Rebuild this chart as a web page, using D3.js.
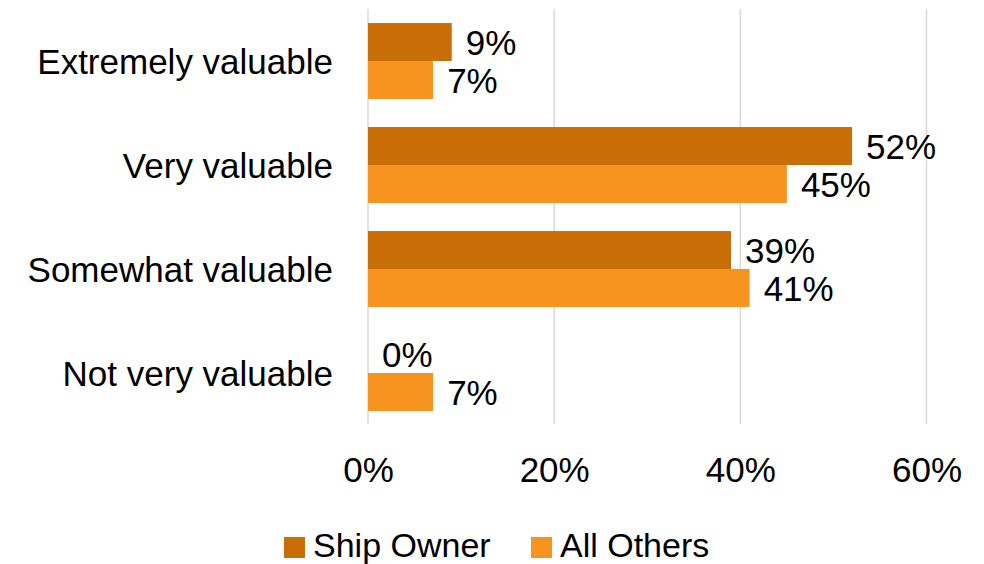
<!DOCTYPE html>
<html>
<head>
<meta charset="utf-8">
<script src="https://cdn.jsdelivr.net/npm/d3@7"></script>
<style>
  html, body { margin: 0; padding: 0; background: #fff; }
  svg { display: block; }
  text { font-family: "Liberation Sans", Arial, sans-serif; fill: #000; }
</style>
</head>
<body>
<svg id="chart" width="984" height="564"></svg>
<script>
// Survey responses: how valuable respondents found it
const categories = ["Extremely valuable", "Very valuable", "Somewhat valuable", "Not very valuable"];
const seriesNames = ["Ship Owner", "All Others"];
const shipOwner = [9, 52, 39, 0];
const allOthers = [7, 45, 41, 7];
const xTicks = [0, 20, 40, 60];
const colors = ["#C96E07", "#F7941F"];

const seriesValues = [shipOwner, allOthers];
const rows = categories.map((c, i) => ({
  category: c,
  values: seriesNames.map((s, j) => ({ series: s, value: seriesValues[j][i] }))
}));

const svg = d3.select("#chart");
const fontSize = 35;

const x = d3.scaleLinear().domain([0, 60]).range([368, 926.5]);
const y = d3.scaleBand().domain(categories).range([9, 425]).paddingInner(0.27).paddingOuter(0.135);
const ySub = d3.scaleBand().domain(seriesNames).range([0, y.bandwidth()]);
const color = d3.scaleOrdinal().domain(seriesNames).range(colors);

// vertical gridlines
svg.append("g")
  .selectAll("line")
  .data(xTicks)
  .join("line")
  .attr("x1", d => x(d)).attr("x2", d => x(d))
  .attr("y1", 9).attr("y2", 424)
  .attr("stroke", "#d9d9d9")
  .attr("stroke-width", 1.5);

// x axis tick labels
const xAxis = d3.axisBottom(x).tickValues(xTicks).tickFormat(d => d + "%").tickSize(0).tickPadding(0);
const gx = svg.append("g").attr("transform", "translate(0,482)").call(xAxis);
gx.select(".domain").remove();
gx.selectAll("text")
  .attr("y", 0).attr("dy", 0)
  .style("font-size", fontSize + "px")
  .style("font-family", '"Liberation Sans", Arial, sans-serif')
  .attr("fill", "#000");

// category labels
svg.append("g")
  .selectAll("text")
  .data(categories)
  .join("text")
  .attr("x", 333)
  .attr("y", d => y(d) + y.bandwidth() / 2)
  .attr("dy", "0.36em")
  .attr("text-anchor", "end")
  .style("font-size", fontSize + "px")
  .text(d => d);

// bars and value labels
const groups = svg.append("g")
  .selectAll("g")
  .data(rows)
  .join("g")
  .attr("transform", d => `translate(0,${y(d.category)})`);

groups.selectAll("rect")
  .data(d => d.values.filter(v => v.value > 0))
  .join("rect")
  .attr("x", x(0))
  .attr("y", d => ySub(d.series))
  .attr("width", d => x(d.value) - x(0))
  .attr("height", ySub.bandwidth())
  .attr("fill", d => color(d.series));

groups.selectAll("text")
  .data(d => d.values)
  .join("text")
  .attr("x", d => x(d.value) + 14)
  .attr("y", d => ySub(d.series) + ySub.bandwidth() / 2)
  .attr("dy", "0.36em")
  .style("font-size", fontSize + "px")
  .text(d => d.value + "%");

// legend
const legendX = [284, 531];
const legend = svg.append("g")
  .selectAll("g")
  .data(seriesNames)
  .join("g")
  .attr("transform", (d, i) => `translate(${legendX[i]},537)`);
legend.append("rect")
  .attr("width", 21).attr("height", 21)
  .attr("fill", d => color(d));
legend.append("text")
  .attr("x", 29)
  .attr("y", 20)
  .style("font-size", "34px")
  .text(d => d);
</script>
</body>
</html>
